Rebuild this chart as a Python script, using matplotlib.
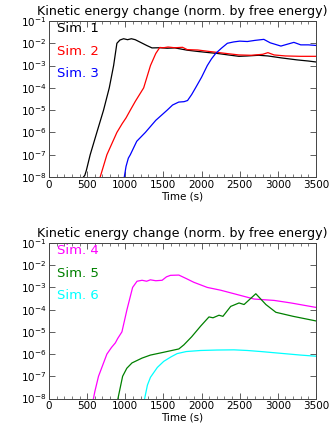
import matplotlib
matplotlib.use("Agg")
import matplotlib.pyplot as plt
from matplotlib.ticker import FixedLocator, MultipleLocator, NullLocator

# ---- values (time in s, normalised kinetic energy change)
t_sim1 = [452, 470, 490, 540, 627, 715, 790, 847, 890, 930, 978, 1030, 1080, 1130, 1200,
          1280, 1350, 1450, 1550, 1650, 1812, 1950, 2100, 2206, 2350, 2490, 2600, 2750,
          2870, 3050, 3250, 3400, 3500]
e_sim1 = [1e-8, 1.2e-8, 2e-8, 1e-7, 1e-6, 1e-5, 1e-4, 1e-3, 1e-2, 1.4e-2, 1.6e-2, 1.45e-2,
          1.6e-2, 1.45e-2, 1.1e-2, 8e-3, 6.2e-3, 6.3e-3, 6e-3, 6.2e-3, 4.9e-3, 4.3e-3, 3.8e-3,
          3.5e-3, 3e-3, 2.6e-3, 2.7e-3, 2.9e-3, 2.7e-3, 2.2e-3, 1.8e-3, 1.6e-3, 1.45e-3]

t_sim2 = [671, 759, 890, 960, 1010, 1066, 1132, 1241, 1330, 1400, 1452, 1500, 1560, 1650,
          1750, 1812, 1950, 2100, 2206, 2350, 2490, 2650, 2800, 2870, 2950, 3100, 3300, 3500]
e_sim2 = [1e-8, 1e-7, 1e-6, 2.5e-6, 4.5e-6, 1e-5, 2.5e-5, 1e-4, 1e-3, 3.5e-3, 6.5e-3, 6.3e-3,
          6.8e-3, 6.3e-3, 6.6e-3, 5.2e-3, 5e-3, 4.3e-3, 3.9e-3, 3.4e-3, 3e-3, 2.9e-3, 3.2e-3,
          3.8e-3, 3e-3, 2.7e-3, 2.6e-3, 2.6e-3]

t_sim3 = [987, 1010, 1040, 1066, 1150, 1263, 1400, 1549, 1620, 1700, 1770, 1816, 1870, 1921,
          2000, 2075, 2130, 2185, 2260, 2338, 2420, 2500, 2600, 2700, 2816, 2900, 3040, 3120,
          3210, 3300, 3400, 3500]
e_sim3 = [1e-8, 3e-8, 7e-8, 1e-7, 4e-7, 1e-6, 3.5e-6, 1e-5, 1.7e-5, 2.3e-5, 2.4e-5, 2.7e-5,
          5e-5, 1e-4, 3e-4, 1e-3, 2e-3, 3.5e-3, 6e-3, 1e-2, 1.15e-2, 1.25e-2, 1.2e-2, 1.35e-2,
          1.5e-2, 1.05e-2, 7.5e-3, 9e-3, 1.1e-2, 8.5e-3, 8.5e-3, 8e-3]

t_sim4 = [583, 600, 649, 759, 820, 870, 900, 956, 1022, 1096, 1154, 1220, 1280, 1329, 1400,
          1483, 1540, 1592, 1702, 1800, 1899, 2075, 2250, 2426, 2689, 2952, 3172, 3500]
e_sim4 = [1e-8, 2e-8, 1e-7, 1e-6, 2e-6, 3.2e-6, 5e-6, 1e-5, 1e-4, 1e-3, 1.9e-3, 2.1e-3, 1.9e-3,
          2.2e-3, 2e-3, 2.1e-3, 3e-3, 3.5e-3, 3.6e-3, 2.5e-3, 1.7e-3, 1e-3, 7.5e-4, 5.2e-4,
          3e-4, 2.6e-4, 2e-4, 1.26e-4]

t_sim5 = [904, 965, 1020, 1088, 1220, 1329, 1500, 1702, 1768, 1870, 1987, 2097, 2150, 2228,
          2280, 2382, 2491, 2557, 2711, 2843, 2974, 3200, 3500]
e_sim5 = [1e-8, 1e-7, 2.3e-7, 4e-7, 6.6e-7, 9e-7, 1.2e-6, 1.7e-6, 2.6e-6, 6e-6, 1.8e-5, 4.7e-5,
          4.3e-5, 5.6e-5, 5e-5, 1.4e-4, 2e-4, 1.7e-4, 5.2e-4, 1.7e-4, 7.6e-5, 5e-5, 3.1e-5]

t_sim6 = [1254, 1290, 1330, 1420, 1504, 1600, 1680, 1800, 1987, 2200, 2426, 2600, 2777, 3080,
          3300, 3500]
e_sim6 = [1e-8, 4e-8, 9e-8, 2.5e-7, 4.7e-7, 7.5e-7, 1.05e-6, 1.3e-6, 1.45e-6, 1.52e-6, 1.55e-6,
          1.45e-6, 1.3e-6, 1.05e-6, 9e-7, 8e-7]

top_series = [("Sim. 1", t_sim1, e_sim1, "black"),
              ("Sim. 2", t_sim2, e_sim2, "red"),
              ("Sim. 3", t_sim3, e_sim3, "blue")]
bottom_series = [("Sim. 4", t_sim4, e_sim4, "magenta"),
                 ("Sim. 5", t_sim5, e_sim5, "green"),
                 ("Sim. 6", t_sim6, e_sim6, "cyan")]

decades = [1e-8, 1e-7, 1e-6, 1e-5, 1e-4, 1e-3, 1e-2, 1e-1]
xticks = [0, 500, 1000, 1500, 2000, 2500, 3000, 3500]
title = "Kinetic energy change (norm. by free energy)"
label_y = [0.953, 0.804, 0.665]

W, H = 332, 443
fig = plt.figure(figsize=(W / 100, H / 100), dpi=100)
fig.patch.set_facecolor("white")

frame_col = "#444444"


def panel(rect, series):
    ax = fig.add_axes(rect)
    for name, t, e, c in series:
        ax.plot(t, e, color=c, lw=0.9)
    ax.set_yscale("log")
    ax.set_xlim(0, 3500)
    ax.set_ylim(1e-8, 1e-1)
    ax.yaxis.set_major_locator(FixedLocator(decades))
    ax.yaxis.set_minor_locator(NullLocator())
    ax.set_xticks(xticks)
    ax.xaxis.set_minor_locator(MultipleLocator(100))
    ax.tick_params(which="both", direction="in", top=True, right=True,
                   labelsize=7.5, pad=2, color=frame_col)
    ax.tick_params(which="major", length=4, width=0.6)
    ax.tick_params(which="minor", length=2, width=0.5)
    for s in ax.spines.values():
        s.set_color(frame_col)
        s.set_linewidth(0.7)
    ax.set_xlabel("Time (s)", fontsize=7.5, labelpad=1)
    ax.set_title(title, fontsize=9.1, pad=4.5)
    for (name, t, e, c), y in zip(series, label_y):
        ax.text(0.03, y, name, color=c, fontsize=9.5,
                transform=ax.transAxes, ha="left", va="center")
    return ax


# axes in pixel geometry: x 49..316, top panel y 21..177, bottom panel y 243..398.5
def rect(x0, x1, y0, y1):
    return [x0 / W, 1 - y1 / H, (x1 - x0) / W, (y1 - y0) / H]


panel(rect(49, 316, 21, 177), top_series)
panel(rect(49, 316, 243, 398.5), bottom_series)

fig.savefig("out.png", dpi=100, facecolor="white")
